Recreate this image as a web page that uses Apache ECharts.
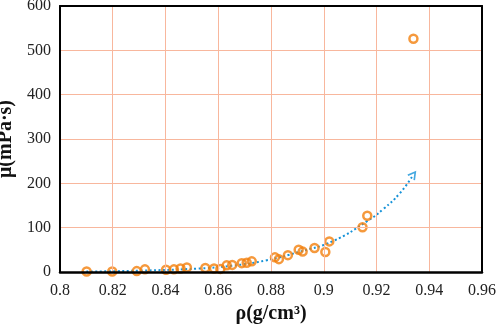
<!DOCTYPE html>
<html>
<head>
<meta charset="utf-8">
<script src="https://cdn.jsdelivr.net/npm/echarts@6/dist/echarts.min.js"></script>
<style>
  html, body { margin: 0; padding: 0; background: #fff; }
  #chart { width: 498px; height: 325px; }
</style>
</head>
<body>
<div id="chart"></div>
<script>
// measured samples: density (g/cm3) and viscosity (mPa·s)
const density = [0.8101, 0.8198, 0.8291, 0.8322, 0.8402, 0.8432, 0.8457, 0.8481, 0.8551,
  0.8584, 0.8608, 0.8632, 0.8653, 0.8689, 0.8708, 0.8727, 0.8815, 0.883, 0.8864, 0.8905,
  0.892, 0.8965, 0.9006, 0.9021, 0.9147, 0.9165, 0.934]
const viscosity = [1, 1, 2, 6, 5, 6, 8, 10, 9, 8, 7, 15, 16, 20, 21, 24, 33, 29, 38, 50,
  46, 54, 45, 69, 101, 127, 526]

// trend line
const trendX = [0.81, 0.83, 0.853, 0.865, 0.878, 0.891, 0.9036, 0.9163, 0.9226, 0.9289, 0.9339]
const trendY = [1, 3, 8, 14, 26, 46, 70, 114, 142, 178, 219]

const xTicks = { min: 0.8, max: 0.96, step: 0.02 }
const yTicks = { min: 0, max: 600, step: 100 }

const orange = '#f2800c'
const blue = '#1592d8'
const gridColor = '#f8b79d'
const font = 'Liberation Serif, Times New Roman, serif'

const chart = echarts.init(document.getElementById('chart'))

const points = density.map((d, i) => [d, viscosity[i]])
const trend = trendX.map((d, i) => [d, trendY[i]])

// plain black frame line used for the top and right edges
function frameAxis(extra) {
  return Object.assign({
    type: 'value',
    axisLine: { show: true, onZero: false, lineStyle: { color: '#000', width: 2 } },
    axisTick: { show: false },
    axisLabel: { show: false },
    splitLine: { show: false },
    z: 5
  }, extra)
}

const option = {
  animation: false,
  grid: {
    left: 60,
    right: 16,
    top: 6,
    bottom: 53,
    outerBoundsMode: 'none'
  },
  xAxis: [
    {
      type: 'value',
      min: xTicks.min,
      max: xTicks.max,
      interval: xTicks.step,
      name: 'ρ(g/cm³)',
      nameLocation: 'middle',
      nameGap: 24,
      nameTextStyle: { fontFamily: font, fontSize: 20, fontWeight: 'bold', color: '#111' },
      axisLine: { show: true, lineStyle: { color: '#000', width: 2.5 } },
      axisTick: { show: false },
      axisLabel: { fontFamily: font, fontSize: 16, color: '#222', margin: 11 },
      splitLine: { show: true, lineStyle: { color: gridColor, width: 1 } },
      z: 5
    },
    frameAxis({ position: 'top', min: xTicks.min, max: xTicks.max })
  ],
  yAxis: [
    {
      type: 'value',
      min: yTicks.min,
      max: yTicks.max,
      interval: yTicks.step,
      name: 'μ(mPa·s)',
      nameLocation: 'middle',
      nameGap: 35,
      nameTextStyle: { fontFamily: font, fontSize: 20, fontWeight: 'bold', color: '#111' },
      axisLine: { show: true, lineStyle: { color: '#000', width: 2 } },
      axisTick: { show: false },
      axisLabel: { fontFamily: font, fontSize: 16, color: '#222', margin: 9 },
      splitLine: { show: true, lineStyle: { color: gridColor, width: 1 } },
      z: 5
    },
    frameAxis({ position: 'right', min: yTicks.min, max: yTicks.max })
  ],
  series: [
    {
      type: 'line',
      data: trend,
      smooth: true,
      symbol: 'none',
      z: 3,
      lineStyle: { color: blue, width: 2, type: [2, 2.5] }
    },
    {
      // arrow head at the end of the trend line
      type: 'scatter',
      data: [trend[trend.length - 1]],
      symbol: 'path://M0,9 L5,0 L10,9',
      symbolSize: [8, 7],
      symbolRotate: -37,
      z: 3,
      itemStyle: { color: 'rgba(0,0,0,0)', borderColor: blue, borderWidth: 1.6 }
    },
    {
      type: 'scatter',
      data: points,
      symbol: 'circle',
      symbolSize: 8,
      z: 4,
      itemStyle: { color: 'rgba(255,255,255,0)', borderColor: orange, borderWidth: 2.5 }
    }
  ]
}

chart.setOption(option)
</script>
</body>
</html>
